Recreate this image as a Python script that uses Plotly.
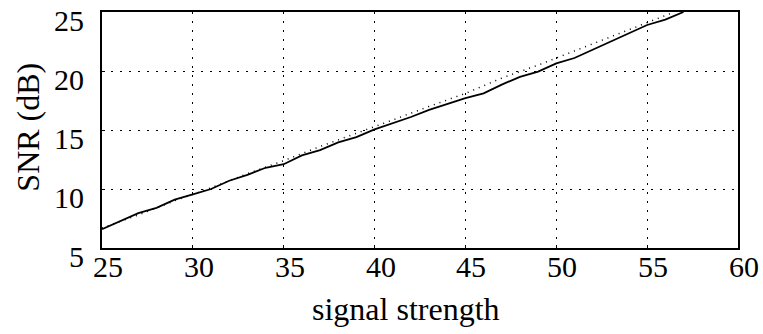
import plotly.graph_objects as go

# measured SNR (solid)
x_meas = list(range(25, 58))
snr_meas = [6.6, 7.3, 7.95, 8.4, 9.1, 9.55, 10.0, 10.7, 11.2, 11.8, 12.1,
            12.85, 13.3, 13.95, 14.4, 15.05, 15.55, 16.1, 16.7, 17.2, 17.7,
            18.1, 18.85, 19.5, 19.95, 20.65, 21.1, 21.8, 22.5, 23.2, 23.9,
            24.35, 25.0]

# reference curve (dotted)
x_ref = [25, 27, 29, 31, 33, 35, 37, 39, 41, 43, 45, 47, 49, 51, 53, 55, 56.5]
snr_ref = [6.7, 7.8, 9.0, 10.1, 11.3, 12.4, 13.6, 14.7, 15.85, 17.0, 18.1,
           19.4, 20.5, 21.7, 22.9, 24.1, 25.0]

x_ticks = [25, 30, 35, 40, 45, 50, 55, 60]
x_tick_labels = ["25", "30", "35", "40", "45", "50", "55", "60"]
y_ticks = [5, 10, 15, 20, 25]
y_tick_labels = ["5", "10", "15", "20", "25"]

x_title = "signal strength"
y_title = "SNR (dB)"

FONT = "Liberation Serif, Times New Roman, serif"

fig = go.Figure()
fig.add_trace(go.Scatter(x=x_ref, y=snr_ref, mode="lines",
                         line=dict(color="black", width=1.5, dash="1px,5px"),
                         showlegend=False))
fig.add_trace(go.Scatter(x=x_meas, y=snr_meas, mode="lines",
                         line=dict(color="black", width=1.8),
                         showlegend=False))

annotations = []
for v, t in zip(x_ticks, x_tick_labels):
    annotations.append(dict(x=v, y=0, xref="x", yref="paper", text=t,
                            showarrow=False, xanchor="center", yanchor="middle",
                            xshift=6, yshift=-18,
                            font=dict(family=FONT, size=30, color="black")))
for v, t in zip(y_ticks, y_tick_labels):
    annotations.append(dict(x=0, y=v, xref="paper", yref="y", text=t,
                            showarrow=False, xanchor="right", yanchor="middle",
                            xshift=-16, yshift=-8,
                            font=dict(family=FONT, size=30, color="black")))
annotations.append(dict(x=0.478, y=0, xref="paper", yref="paper", text=x_title,
                        showarrow=False, xanchor="center", yanchor="middle",
                        yshift=-61,
                        font=dict(family=FONT, size=32, color="black")))
annotations.append(dict(x=0, y=0.51, xref="paper", yref="paper", text=y_title,
                        showarrow=False, xanchor="center", yanchor="middle",
                        xshift=-74, textangle=-90,
                        font=dict(family=FONT, size=32, color="black")))

fig.update_layout(
    width=763, height=334,
    margin=dict(l=102, r=25, t=10, b=86),
    paper_bgcolor="white", plot_bgcolor="white",
    annotations=annotations,
    xaxis=dict(range=[25, 60], tickvals=x_ticks, showticklabels=False,
               showgrid=True, gridcolor="black", gridwidth=1, griddash="2px,7px",
               showline=True, linecolor="black", linewidth=1.5, mirror=True,
               ticks="inside", ticklen=3, tickcolor="black", zeroline=False),
    yaxis=dict(range=[5, 25], tickvals=y_ticks, showticklabels=False,
               showgrid=True, gridcolor="black", gridwidth=1, griddash="2px,7px",
               showline=True, linecolor="black", linewidth=1.5, mirror=True,
               ticks="inside", ticklen=3, tickcolor="black", zeroline=False),
)

# remove the default page margin so the 763x334 figure fills the window exactly
fig.write_html("out.html",
               config={"displayModeBar": False},
               post_script="document.body.style.margin='0';document.body.style.overflow='hidden';")
